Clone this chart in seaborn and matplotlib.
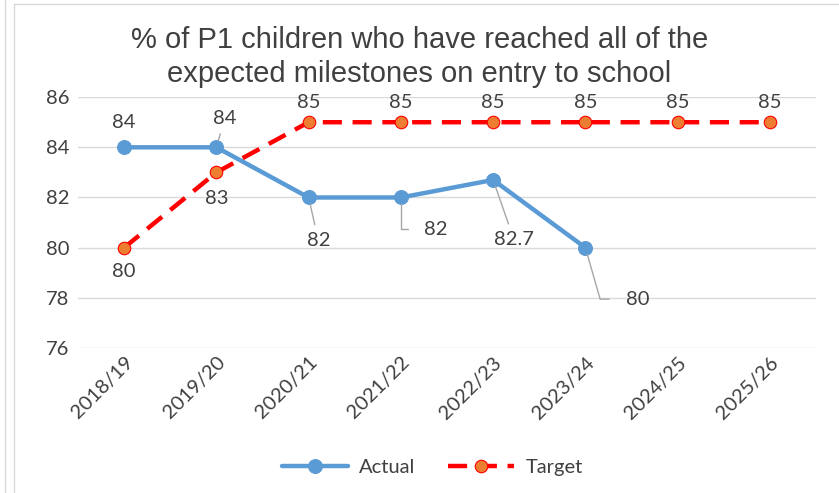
import numpy as np
import matplotlib
matplotlib.use("Agg")
from matplotlib import pyplot as plt
from matplotlib.lines import Line2D
import seaborn as sns

# data ~~~~~~~~~~~~~~~~~~~~~~~~~~~~~~~~~~~~~~~~~~~~~~~~~~~~~~~~~~~~~~~~~
years = ["2018/19", "2019/20", "2020/21", "2021/22", "2022/23", "2023/24", "2024/25", "2025/26"]
actual = [84, 84, 82, 82, 82.7, 80]
target = [80, 83, 85, 85, 85, 85, 85, 85]
actual_labels = ["84", "84", "82", "82", "82.7", "80"]
target_labels = ["80", "83", "85", "85", "85", "85", "85", "85"]

sns.set_theme(style="white")
plt.rcParams['font.family'] = ['Lato', 'DejaVu Sans']

blue = "#5B9BD5"
red = "#FF0000"
orange = "#ED7D31"
txt = "#404040"
grid_c = "#D9D9D9"
fs = 14.5

fig = plt.figure(figsize=(8.39, 4.93), dpi=100)
ax = fig.add_axes([0.093, 0.294, 0.8796, 0.509])

x = np.arange(len(years))
sns.lineplot(x=x[:len(actual)], y=actual, ax=ax, color=blue, lw=3.2, marker="o",
             markersize=10, markeredgecolor=blue, label="Actual", zorder=3)
sns.lineplot(x=x, y=target, ax=ax, color=red, lw=3.2, marker="o", markersize=9,
             markerfacecolor=orange, markeredgecolor=red, markeredgewidth=0.8,
             label="Target", zorder=4)
ax.lines[1].set_linestyle((0, (4.3, 2.4)))

ax.set_xlim(-0.5, len(years) - 0.5)
ax.set_ylim(76, 86)
ax.set_yticks(np.arange(76, 87, 2))
ax.set_xticks(x)
ax.set_xticklabels(years, rotation=45, ha="right", rotation_mode="anchor")
ax.tick_params(axis="both", labelsize=fs, colors=txt, length=0, pad=6)
ax.tick_params(axis="x", pad=4)
ax.grid(axis="y", color=grid_c, lw=1)
for s in ax.spines.values():
    s.set_visible(False)

# data labels (offsets in points)
lead = dict(arrowstyle="-", color="#A6A6A6", lw=1, shrinkA=3, shrinkB=5)
a_off = [(0, 18), (6, 21), (7, -31), (25, -23), (15, -43), (38, -37)]
a_arrow = [None, lead, lead,
           dict(lead, connectionstyle="angle,angleA=0,angleB=90,rad=0", shrinkA=9),
           lead,
           dict(lead, connectionstyle="angle,angleA=0,angleB=-74,rad=0", shrinkA=10)]
for i, (v, lab) in enumerate(zip(actual, actual_labels)):
    ax.annotate(lab, (x[i], v), xytext=a_off[i], textcoords="offset points",
                ha="center", va="center", fontsize=fs, color=txt, arrowprops=a_arrow[i])

t_off = [(0, -17), (0, -19)] + [(0, 14)] * 6
for i, (v, lab) in enumerate(zip(target, target_labels)):
    ax.annotate(lab, (x[i], v), xytext=t_off[i], textcoords="offset points",
                ha="center", va="center", fontsize=fs, color=txt)

fig.suptitle("% of P1 children who have reached all of the\nexpected milestones on entry to school",
             x=0.5, y=0.948, fontsize=21, color=txt, family="Liberation Sans",
             linespacing=1.28)

leg = ax.legend(loc="center", ncol=2, frameon=False, fontsize=fs,
                handlelength=3.3, columnspacing=1.6, handletextpad=0.55)
for t in leg.get_texts():
    t.set_color(txt)
leg.set_bbox_to_anchor((0.515, 0.052), transform=fig.transFigure)

# chart border bits
fig.add_artist(Line2D([5 / 839, 5 / 839], [0, 1], color=grid_c, lw=1))
fig.add_artist(Line2D([14 / 839, 14 / 839], [0, 1 - 4 / 493], color=grid_c, lw=1))
fig.add_artist(Line2D([14 / 839, 1], [1 - 4 / 493, 1 - 4 / 493], color=grid_c, lw=1))

fig.savefig("out.png", dpi=100)
